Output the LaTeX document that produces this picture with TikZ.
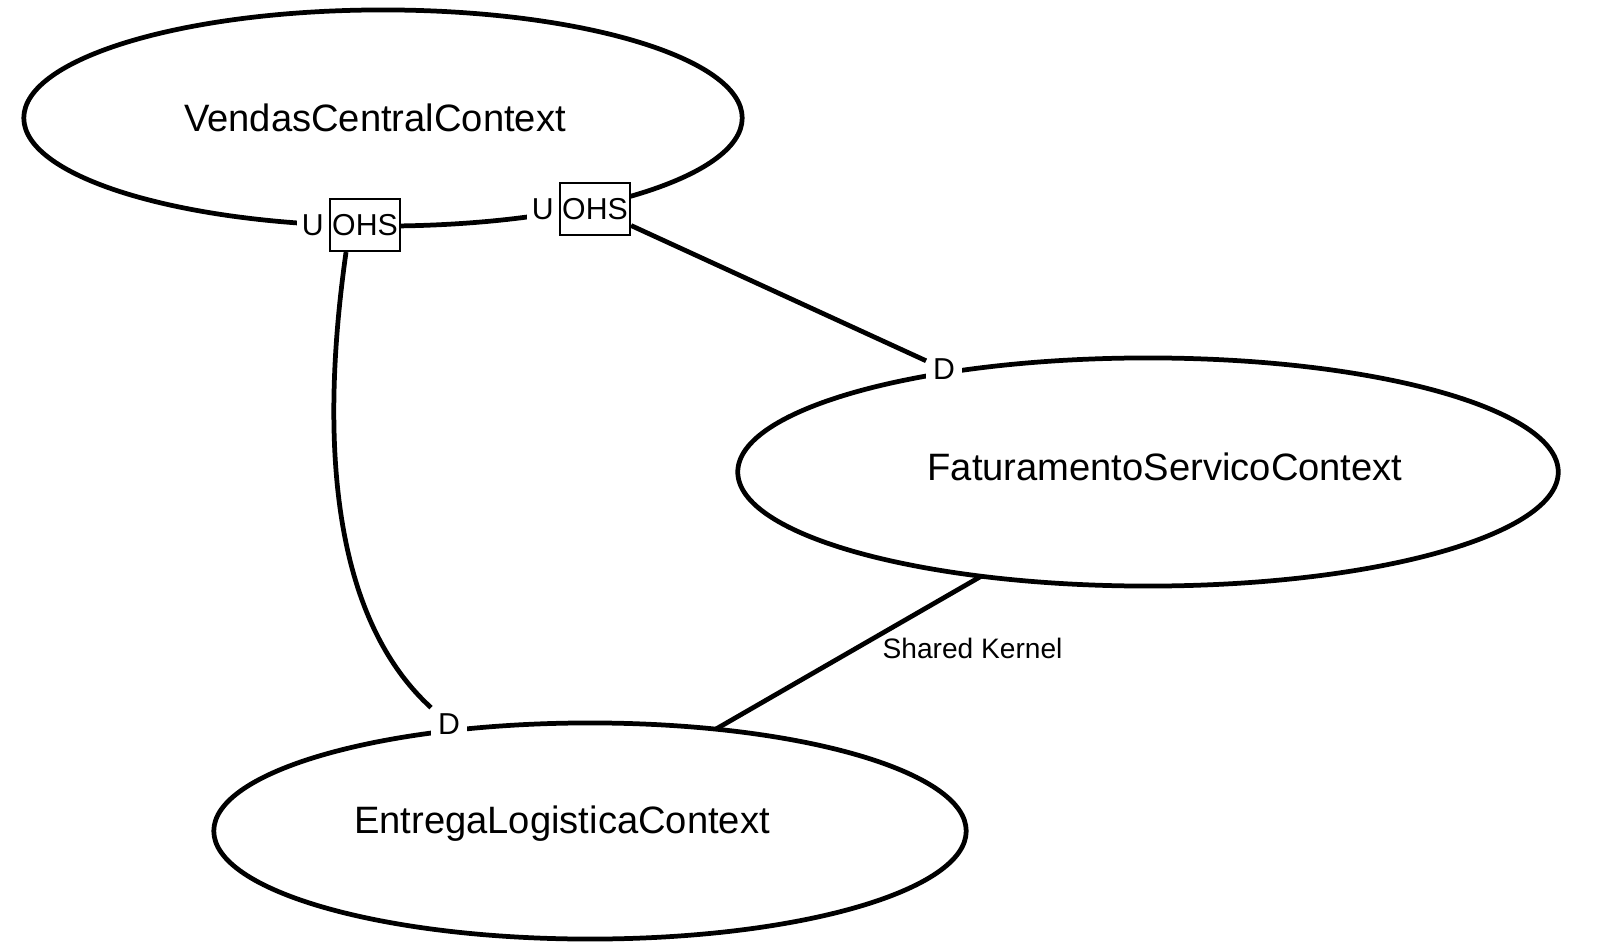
\documentclass[tikz,border=0pt]{standalone}
\usepackage{fontspec}
\setmainfont{Liberation Sans}
\usepackage{tikz}
\usetikzlibrary{positioning,shapes.geometric}

\begin{document}
\begin{tikzpicture}[x=0.01cm, y=-0.01cm,
    ctx/.style={draw, ellipse, line width=1.35pt, inner sep=0pt, outer sep=0pt},
    ctxname/.style={font=\fontsize{10.85}{13}\selectfont},
    ohs/.style={draw, line width=0.6pt, fill=white, minimum width=0.7cm, minimum height=0.52cm, inner sep=0pt, font=\fontsize{8.6}{10}\selectfont},
    tag/.style={fill=white, inner sep=2pt, outer sep=0pt, font=\fontsize{8.6}{10}\selectfont},
    rel/.style={line width=1.35pt}]
    \useasboundingbox (0,0) rectangle (1600,949);

    % Bounded contexts
    \node[ctx, minimum width=7.18cm, minimum height=2.16cm,
        label={[ctxname, xshift=-0.08cm]center:VendasCentralContext}] (vendas) at (383,118) {};
    \node[ctx, minimum width=8.2cm, minimum height=2.28cm,
        label={[ctxname, xshift=0.17cm, yshift=0.05cm]center:FaturamentoServicoContext}] (fat) at (1148,472) {};
    \node[ctx, minimum width=7.52cm, minimum height=2.16cm,
        label={[ctxname, xshift=-0.28cm, yshift=0.07cm]center:EntregaLogisticaContext}] (ent) at (590,831) {};

    % Upstream / downstream ends
    \node[ohs] (ohs1) at (365,225) {OHS};
    \node[tag, inner xsep=1.5pt, left=0pt of ohs1] (u1) {U};
    \node[ohs] (ohs2) at (595,209) {OHS};
    \node[tag, inner xsep=1.5pt, left=0pt of ohs2] (u2) {U};
    \node[tag] (dfat) at (944,369) {D};
    \node[tag] (dent) at (449,724) {D};

    % Relationships
    \draw[rel] (ohs1.-125) .. controls (318,450) and (335,620) .. (dent);
    \draw[rel] (ohs2) -- (dfat);
    \draw[rel] (fat.212) -- (ent.39)
        node[midway, right, xshift=0.2cm, yshift=0.04cm, font=\fontsize{8}{10}\selectfont] (sk) {Shared Kernel};
\end{tikzpicture}
\end{document}
